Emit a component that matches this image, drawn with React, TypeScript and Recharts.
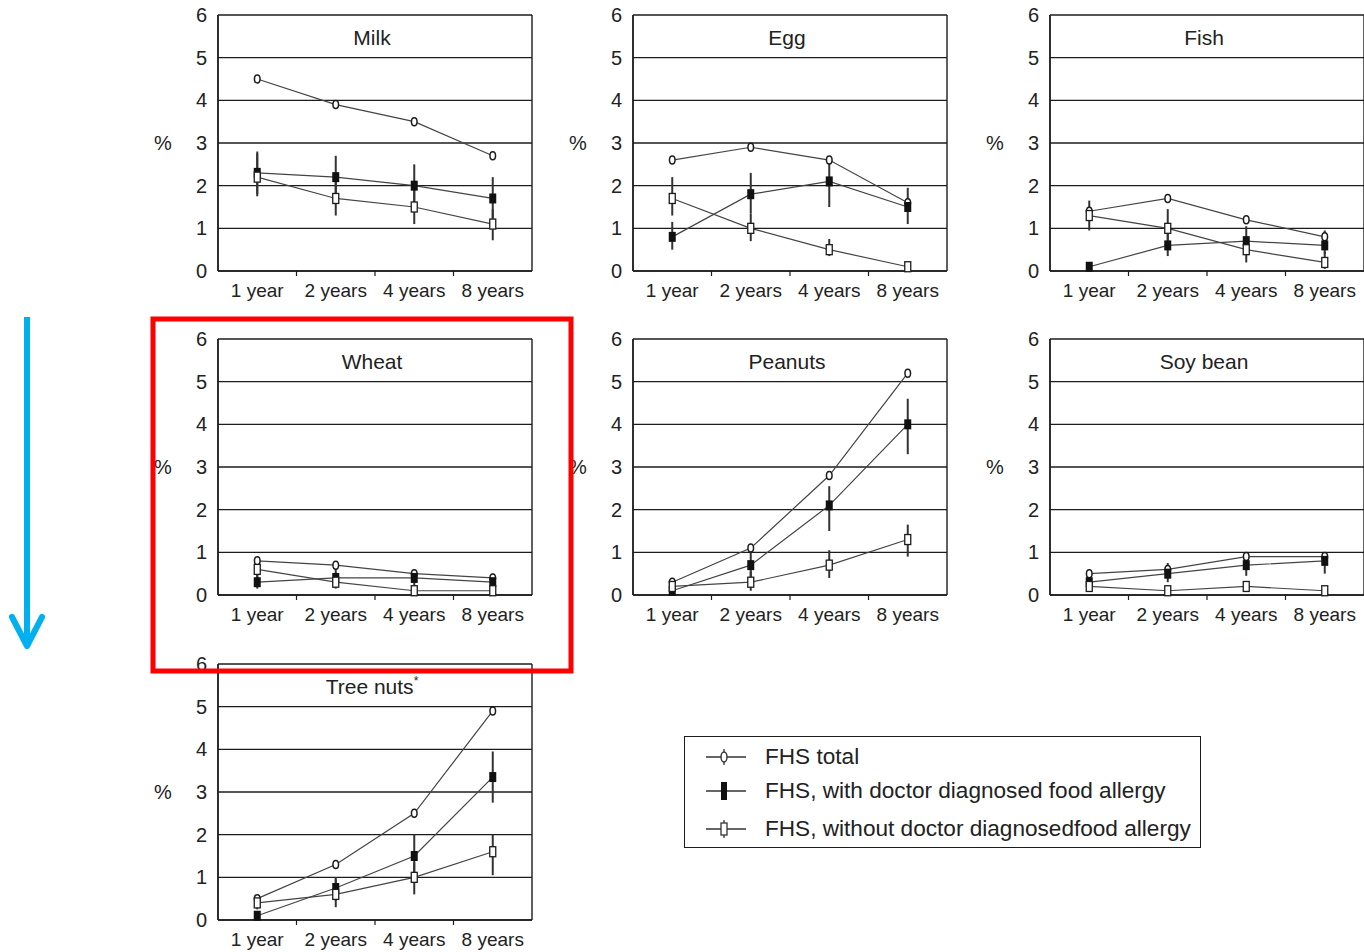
import React from 'react';
import { LineChart, Line, XAxis, YAxis, CartesianGrid, ErrorBar, ReferenceArea } from 'recharts';

// ---------- data ----------
const ages = ['1 year', '2 years', '4 years', '8 years'];
const yTicks = [0, 1, 2, 3, 4, 5, 6];
const seriesNames = [
  'FHS total',
  'FHS, with doctor diagnosed food allergy',
  'FHS, without doctor diagnosedfood allergy',
];

const milkTotal = [4.5, 3.9, 3.5, 2.7];
const milkWith = [2.3, 2.2, 2.0, 1.7];
const milkWithCI = [[1.8, 2.8], [1.7, 2.7], [1.5, 2.5], [1.2, 2.2]];
const milkWithout = [2.2, 1.7, 1.5, 1.1];
const milkWithoutCI = [[1.75, 2.75], [1.3, 2.1], [1.1, 1.9], [0.72, 1.45]];

const eggTotal = [2.6, 2.9, 2.6, 1.6];
const eggWith = [0.8, 1.8, 2.1, 1.5];
const eggWithCI = [[0.5, 1.15], [1.35, 2.3], [1.5, 2.55], [1.1, 1.95]];
const eggWithout = [1.7, 1.0, 0.5, 0.1];
const eggWithoutCI = [[1.3, 2.2], [0.7, 1.35], [0.35, 0.75], [0.05, 0.2]];

const fishTotal = [1.4, 1.7, 1.2, 0.8];
const fishWith = [0.1, 0.6, 0.7, 0.6];
const fishWithCI = [[0.05, 0.2], [0.35, 0.9], [0.4, 1.05], [0.4, 0.95]];
const fishWithout = [1.3, 1.0, 0.5, 0.2];
const fishWithoutCI = [[0.95, 1.65], [0.6, 1.45], [0.2, 0.8], [0.05, 0.45]];

const wheatTotal = [0.8, 0.7, 0.5, 0.4];
const wheatWith = [0.3, 0.4, 0.4, 0.3];
const wheatWithCI = [[0.15, 0.5], [0.2, 0.6], [0.2, 0.55], [0.05, 0.5]];
const wheatWithout = [0.6, 0.3, 0.1, 0.1];
const wheatWithoutCI = [[0.35, 0.85], [0.15, 0.5], [0.0, 0.2], [0.0, 0.2]];

const peanutTotal = [0.3, 1.1, 2.8, 5.2];
const peanutWith = [0.1, 0.7, 2.1, 4.0];
const peanutWithCI = [[0.0, 0.3], [0.4, 1.05], [1.5, 2.55], [3.3, 4.6]];
const peanutWithout = [0.2, 0.3, 0.7, 1.3];
const peanutWithoutCI = [[0.05, 0.3], [0.1, 0.55], [0.4, 1.05], [0.9, 1.65]];

const soyTotal = [0.5, 0.6, 0.9, 0.9];
const soyWith = [0.3, 0.5, 0.7, 0.8];
const soyWithCI = [[0.1, 0.55], [0.3, 0.75], [0.45, 0.95], [0.5, 1.0]];
const soyWithout = [0.2, 0.1, 0.2, 0.1];
const soyWithoutCI = [[0.1, 0.3], [0.0, 0.2], [0.1, 0.3], [0.0, 0.2]];

const treeTotal = [0.5, 1.3, 2.5, 4.9];
const treeWith = [0.1, 0.75, 1.5, 3.35];
const treeWithCI = [[0.05, 0.2], [0.45, 1.0], [0.95, 2.0], [2.75, 3.95]];
const treeWithout = [0.4, 0.6, 1.0, 1.6];
const treeWithoutCI = [[0.25, 0.55], [0.3, 0.95], [0.6, 1.35], [1.05, 2.0]];

// ---------- layout ----------
const FONT = "'Liberation Sans', Arial, Helvetica, sans-serif";
const INK = '#1c1c1c';
const colLeft = [218, 633, 1050];
const rowTop = [15, 339, 664];
const PLOT_W = 314;
const PLOT_H = 256;
const AXIS_W = 78;
const XAXIS_H = 34;
const TOP_M = 10;
const BAND = PLOT_W / 4;

function buildRows(total: number[], wi: number[], wiCI: number[][], wo: number[], woCI: number[][]) {
  return ages.map((age, i) => ({
    age,
    total: total[i],
    with: wi[i],
    withErr: [wi[i] - wiCI[i][0], wiCI[i][1] - wi[i]],
    without: wo[i],
    withoutErr: [wo[i] - woCI[i][0], woCI[i][1] - wo[i]],
  }));
}

const panels = [
  { title: 'Milk', col: 0, row: 0, data: buildRows(milkTotal, milkWith, milkWithCI, milkWithout, milkWithoutCI) },
  { title: 'Egg', col: 1, row: 0, data: buildRows(eggTotal, eggWith, eggWithCI, eggWithout, eggWithoutCI) },
  { title: 'Fish', col: 2, row: 0, data: buildRows(fishTotal, fishWith, fishWithCI, fishWithout, fishWithoutCI) },
  { title: 'Wheat', col: 0, row: 1, data: buildRows(wheatTotal, wheatWith, wheatWithCI, wheatWithout, wheatWithoutCI) },
  { title: 'Peanuts', col: 1, row: 1, data: buildRows(peanutTotal, peanutWith, peanutWithCI, peanutWithout, peanutWithoutCI) },
  { title: 'Soy bean', col: 2, row: 1, data: buildRows(soyTotal, soyWith, soyWithCI, soyWithout, soyWithoutCI) },
  { title: 'Tree nuts', sup: '*', col: 0, row: 2, data: buildRows(treeTotal, treeWith, treeWithCI, treeWithout, treeWithoutCI) },
];

// ---------- markers ----------
const TotalDot = (props: any) => {
  const { cx, cy, index } = props;
  if (cx == null || cy == null) return <g key={`t${index}`} />;
  return <ellipse key={`t${index}`} cx={cx} cy={cy} rx={2.8} ry={4} fill="#fff" stroke={INK} strokeWidth={1.5} />;
};
const WithDot = (props: any) => {
  const { cx, cy, index } = props;
  if (cx == null || cy == null) return <g key={`w${index}`} />;
  return <rect key={`w${index}`} x={cx - 3.5} y={cy - 5} width={7} height={10} fill="#111" />;
};
const WithoutDot = (props: any) => {
  const { cx, cy, index } = props;
  if (cx == null || cy == null) return <g key={`o${index}`} />;
  return <rect key={`o${index}`} x={cx - 3} y={cy - 5} width={6} height={10} fill="#fff" stroke={INK} strokeWidth={1.3} />;
};

const XTick = (props: any) => {
  const { x, y, payload, index } = props;
  return (
    <g>
      {index > 0 && <line x1={x - BAND / 2} x2={x - BAND / 2} y1={y} y2={y + 5} stroke={INK} strokeWidth={1.2} />}
      <text x={x} y={y + 25.5} textAnchor="middle" fontSize={19} fill="#222" fontFamily={FONT}>
        {payload.value}
      </text>
    </g>
  );
};

const plotEdges = (args: any) => {
  const o = args.offset;
  return [o.left, o.left + o.width];
};

function SmallChart({ p }: { p: any }) {
  const plotLeft = colLeft[p.col];
  const plotTop = rowTop[p.row];
  const W = AXIS_W + PLOT_W + 4;
  const H = TOP_M + PLOT_H + XAXIS_H;
  const titleLabel = (lp: any) => {
    const vb = lp.viewBox || {};
    return (
      <text x={vb.x + vb.width / 2 - 3} y={vb.y + 30} textAnchor="middle" fontSize={21} fill="#222" fontFamily={FONT}>
        <tspan>{p.title}</tspan>
        {p.sup && <tspan dy={-9} fontSize={12}>{p.sup}</tspan>}
      </text>
    );
  };
  const pctLabel = (lp: any) => {
    const vb = lp.viewBox || {};
    return (
      <text x={vb.x + vb.width - 55} y={vb.y + vb.height / 2 + 7} textAnchor="middle" fontSize={20} fill="#222" fontFamily={FONT}>
        %
      </text>
    );
  };
  return (
    <div style={{ position: 'absolute', left: plotLeft - AXIS_W, top: plotTop - TOP_M }}>
      <LineChart width={W} height={H} data={p.data} margin={{ top: TOP_M, right: 4, bottom: 0, left: 0 }}>
        <CartesianGrid stroke={INK} strokeWidth={1.4} verticalCoordinatesGenerator={plotEdges} />
        <ReferenceArea y1={0} y2={6} fill="none" fillOpacity={0} stroke="none" label={titleLabel} />
        <XAxis
          dataKey="age"
          height={XAXIS_H}
          interval={0}
          padding={{ left: BAND / 2, right: BAND / 2 }}
          tickLine={false}
          tickSize={0}
          tickMargin={0}
          axisLine={{ stroke: INK, strokeWidth: 1.4 }}
          tick={<XTick />}
        />
        <YAxis
          domain={[0, 6]}
          ticks={yTicks}
          width={AXIS_W}
          tickLine={false}
          tickSize={0}
          tickMargin={11}
          interval={0}
          axisLine={{ stroke: INK, strokeWidth: 1.4 }}
          tick={{ fontSize: 20, fill: '#222', fontFamily: FONT }}
          label={pctLabel}
        />
        <Line dataKey="total" name={seriesNames[0]} stroke="#444" strokeWidth={1.2} dot={TotalDot} activeDot={false} isAnimationActive={false} />
        <Line dataKey="with" name={seriesNames[1]} stroke="#444" strokeWidth={1.2} dot={WithDot} activeDot={false} isAnimationActive={false}>
          <ErrorBar dataKey="withErr" direction="y" width={0} stroke="#333" strokeWidth={2} isAnimationActive={false} />
        </Line>
        <Line dataKey="without" name={seriesNames[2]} stroke="#444" strokeWidth={1.2} dot={WithoutDot} activeDot={false} isAnimationActive={false}>
          <ErrorBar dataKey="withoutErr" direction="y" width={0} stroke="#333" strokeWidth={2} isAnimationActive={false} />
        </Line>
      </LineChart>
    </div>
  );
}

function LegendIcon({ kind }: { kind: number }) {
  return (
    <svg width={44} height={24} style={{ position: 'absolute', left: 0, top: 0 }}>
      <line x1={2} x2={42} y1={12} y2={12} stroke="#333" strokeWidth={1.3} />
      {kind === 0 && (
        <>
          <line x1={20} x2={20} y1={4} y2={20} stroke="#333" strokeWidth={1.3} />
          <ellipse cx={20} cy={12} rx={3} ry={5} fill="#fff" stroke="#333" strokeWidth={1.4} />
        </>
      )}
      {kind === 1 && <rect x={17} y={3} width={6} height={18} fill="#111" />}
      {kind === 2 && (
        <>
          <line x1={20} x2={20} y1={3} y2={21} stroke="#333" strokeWidth={1.3} />
          <rect x={17} y={6} width={6} height={12} fill="#fff" stroke="#333" strokeWidth={1.3} />
        </>
      )}
    </svg>
  );
}

function FigureLegend() {
  const rowsY = [8, 42, 80];
  return (
    <div
      style={{
        position: 'absolute',
        left: 684,
        top: 736,
        width: 517,
        height: 112,
        border: `1.3px solid ${INK}`,
        boxSizing: 'border-box',
        fontFamily: FONT,
        fontSize: 22.6,
        color: '#222',
      }}
    >
      {seriesNames.map((n, i) => (
        <div key={n} style={{ position: 'absolute', left: 19, top: rowsY[i], height: 24, whiteSpace: 'nowrap' }}>
          <LegendIcon kind={i} />
          <span style={{ position: 'absolute', left: 61, top: 0, lineHeight: '24px' }}>{n}</span>
        </div>
      ))}
    </div>
  );
}

function Overlay() {
  return (
    <svg width={1364} height={952} style={{ position: 'absolute', left: 0, top: 0, pointerEvents: 'none' }}>
      <rect x={153} y={319} width={418} height={352} fill="none" stroke="#ff0000" strokeWidth={5} />
      <line x1={27} x2={27} y1={317} y2={645} stroke="#00b0f0" strokeWidth={6} />
      <polyline points="12,617 27,646 42,617" fill="none" stroke="#00b0f0" strokeWidth={6} strokeLinecap="round" strokeLinejoin="round" />
    </svg>
  );
}

export default function App() {
  return (
    <div style={{ position: 'absolute', left: 0, top: 0, width: 1364, height: 952, overflow: 'hidden', background: '#fff' }}>
      {panels.map((p) => (
        <SmallChart key={p.title} p={p} />
      ))}
      <FigureLegend />
      <Overlay />
    </div>
  );
}
